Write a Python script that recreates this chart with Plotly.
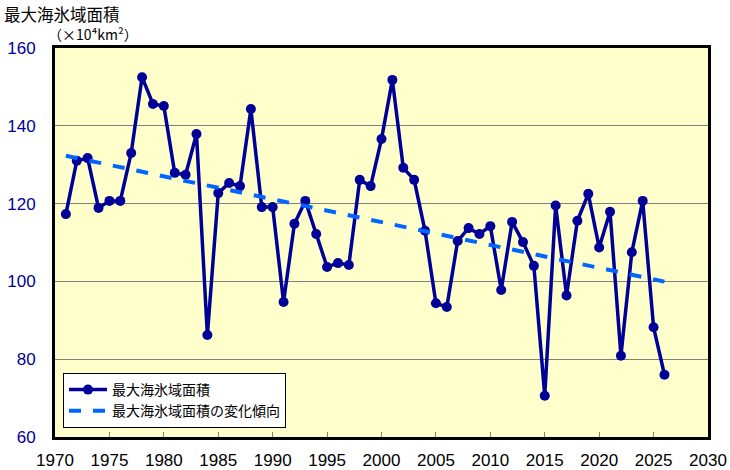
import numpy as np
import plotly.graph_objects as go

years = list(range(1971, 2027))
extent = [117.3, 131.0, 131.7, 118.9, 120.7, 120.7, 133.0, 152.5, 145.6, 145.1,
          127.9, 127.4, 137.9, 86.2, 122.7, 125.3, 124.5, 144.3, 119.1, 119.1,
          94.7, 114.8, 120.7, 112.2, 103.7, 104.7, 104.2, 126.1, 124.5, 136.6,
          151.8, 129.2, 126.1, 113.0, 94.4, 93.4, 110.4, 113.7, 112.2, 114.2,
          97.8, 115.3, 110.1, 104.0, 70.6, 119.5, 96.4, 115.6, 122.5, 108.7,
          117.9, 80.9, 107.5, 120.7, 88.2, 76.0]

x_ticks = list(range(1970, 2031, 5))
y_ticks = [60, 80, 100, 120, 140, 160]

coef = np.polyfit(years, extent, 1)
trend = list(np.polyval(coef, years))

FONT = "Noto Sans CJK JP"
PW, PH, L, T = 653, 389, 55, 48

fig = go.Figure()
fig.add_trace(go.Scatter(x=years, y=extent, mode="lines+markers", name="最大海氷域面積",
                         line=dict(color="#000099", width=3.5),
                         marker=dict(color="#000099", size=10)))
fig.add_trace(go.Scatter(x=years, y=trend, mode="lines", name="最大海氷域面積の変化傾向",
                         line=dict(color="#0066FF", width=4, dash="dash")))

fig.update_layout(
    width=730, height=470,
    margin=dict(l=L, r=22, t=T, b=33),
    paper_bgcolor="white", plot_bgcolor="#FFFFCC",
    font=dict(family=FONT, color="black"),
    showlegend=True,
    legend=dict(x=(63-L)/PW, y=1-(428-T)/PH, xanchor="left", yanchor="bottom",
                bgcolor="white", bordercolor="black", borderwidth=1,
                font=dict(size=14, family=FONT), tracegroupgap=0,
                itemwidth=38),
    annotations=[
        dict(text="最大海氷域面積", x=(2-L)/PW, y=1+(T-0)/PH, xref="paper", yref="paper",
             xanchor="left", yanchor="top", showarrow=False, font=dict(size=16.5, family=FONT)),
        dict(text="（×10⁴km²）", x=(46-L)/PW, y=1+(T-22)/PH,
             xref="paper", yref="paper", xanchor="left", yanchor="top", showarrow=False,
             font=dict(size=14, family=FONT)),
    ],
)
fig.update_xaxes(range=[1970, 2030], tickvals=x_ticks, showgrid=False,
                 ticks="inside", ticklen=5, tickcolor="#808080", tickwidth=1,
                 showline=True, linecolor="black", linewidth=3, mirror=True,
                 tickfont=dict(size=17, family="Liberation Sans", color="black"),
                 ticklabelstandoff=6, zeroline=False, automargin=False)
fig.update_yaxes(range=[60, 160], tickvals=y_ticks, showgrid=True, gridcolor="#808080",
                 gridwidth=1, ticks="", showline=True, linecolor="black", linewidth=3,
                 mirror=True, tickfont=dict(size=17, family="Liberation Sans", color="#000099"),
                 ticklabelstandoff=13, zeroline=False, automargin=False)

fig.write_html("out.html")
